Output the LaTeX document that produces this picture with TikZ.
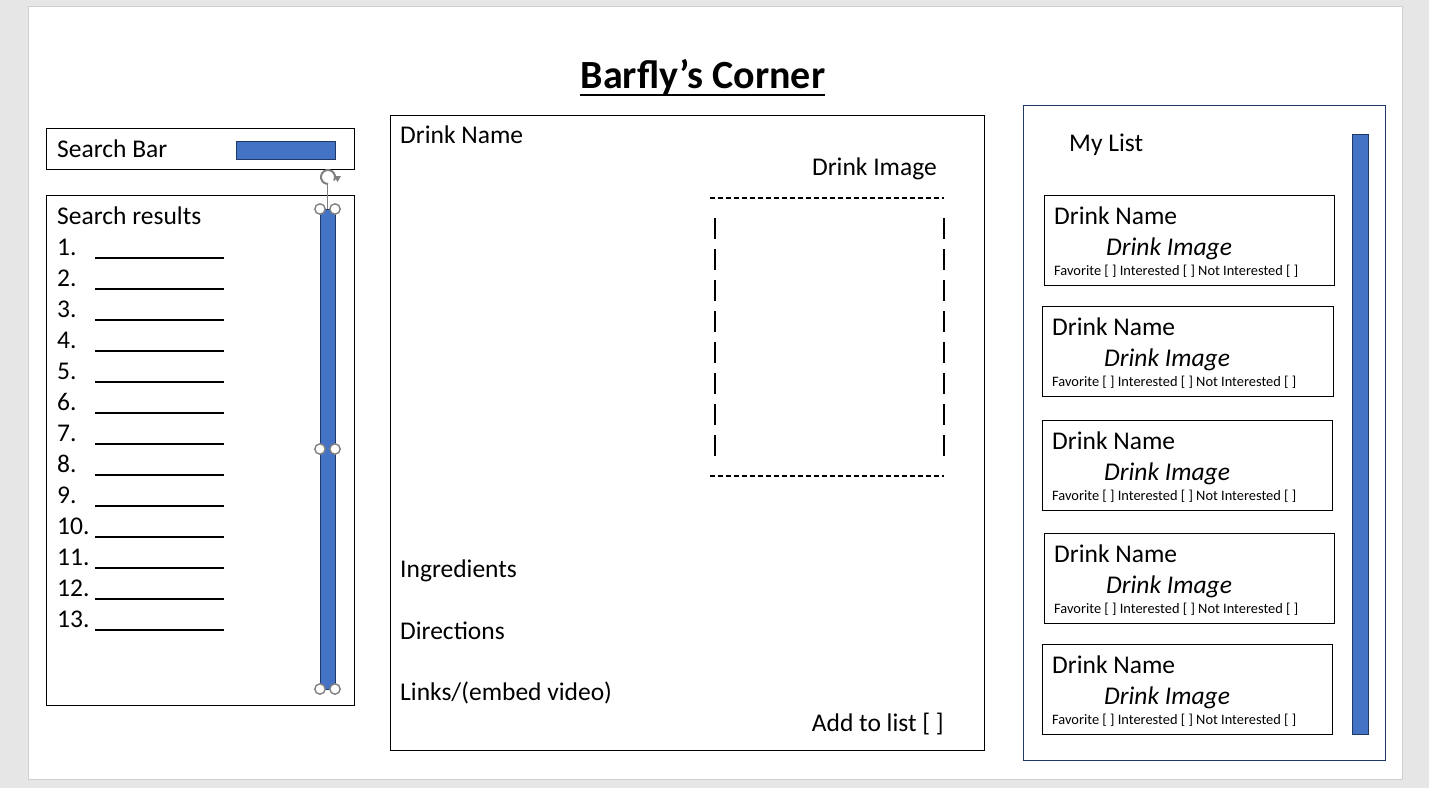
\documentclass[tikz,border=0pt]{standalone}
\usepackage{fontspec}
\setmainfont{Carlito}
\usetikzlibrary{arrows.meta}
\definecolor{bgray}{HTML}{E6E6E6}
\definecolor{sgray}{HTML}{D0D0D0}
\definecolor{mblue}{HTML}{4472C4}
\definecolor{navy}{HTML}{1F3864}
\definecolor{hgray}{HTML}{808080}
\tikzset{
  box/.style={draw=black, line width=1pt, fill=white},
  navybox/.style={draw=navy, line width=1pt, fill=white},
  bluebar/.style={draw=navy, line width=1pt, fill=mblue},
  lbl/.style={anchor=base west, inner sep=0pt, font=\fontsize{25.5}{30}\selectfont},
  lblr/.style={anchor=base east, inner sep=0pt, font=\fontsize{25.5}{30}\selectfont},
  img/.style={anchor=base west, inner sep=0pt, font=\fontsize{25.5}{30}\selectfont\itshape},
  small/.style={anchor=base west, inner sep=0pt, font=\fontsize{14.4}{16}\selectfont},
  handle/.style={draw=hgray, line width=1.4pt, fill=white},
  blank/.style={line width=2pt, black},
  vdash/.style={line width=2pt, black, dash pattern=on 21pt off 10pt},
  hdash/.style={line width=1.6pt, black, dash pattern=on 5pt off 3pt}
}
\begin{document}
\begin{tikzpicture}[x=1pt,y=-1pt]
\useasboundingbox (0,0) rectangle (1429,788);
\fill[bgray] (0,0) rectangle (1429,788);
\draw[sgray, fill=white, line width=1pt] (28,6) rectangle (1402,779);
% title
\node[anchor=base, inner sep=0pt, font=\fontsize{40}{48}\selectfont\bfseries] (title) at (703,88) {Barfly’s Corner};
\draw[line width=2.2pt] (580,95) -- (825,95);
% search bar
\draw[box] (46,128) rectangle (354,169);
\node[lbl] (sb) at (57,157) {Search Bar};
\draw[bluebar] (236,141) rectangle (335,159);
% search results
\draw[box] (46,195) rectangle (354,705);
\node[lbl] (sr) at (57,224) {Search results};
\foreach \i in {1,...,13} {
  \pgfmathsetmacro{\yy}{255+31*(\i-1)}
  \node[lbl] (n\i) at (57,\yy) {\i.};
  \draw[blank] (95,\yy+3) -- (224,\yy+3);
}
\draw[bluebar] (320,209) rectangle (335,689);
\draw[hgray, line width=1pt] (327.5,185) -- (327.5,209);
\foreach \yy in {209,449,689} {
  \draw[handle] (320,\yy) circle (5.2);
  \draw[handle] (335,\yy) circle (5.2);
}
\coordinate (rc) at (328,177);
\draw[hgray, line width=2pt] (rc) ++(30:7) arc[start angle=30, end angle=-270, radius=7];
\fill[hgray] (334,176) -- (341,176) -- (337.5,182) -- cycle;
% middle panel
\draw[box] (390,115) rectangle (984,750);
\node[lbl] (dn) at (400,143) {Drink Name};
\node[lblr] (di) at (937,175) {Drink Image};
\draw[hdash] (710,198) -- (944,198);
\draw[hdash] (710,476) -- (944,476);
\draw[vdash] (715,218) -- (715,460);
\draw[vdash] (944,218) -- (944,460);
\node[lbl] (ing) at (400,577) {Ingredients};
\node[lbl] (dir) at (400,639) {Directions};
\node[lbl] (lnk) at (400,700) {Links/(embed video)};
\node[lblr] (add) at (944,731) {Add to list [ ]};
% right panel
\draw[navybox] (1023,105) rectangle (1385,760);
\node[lbl] (ml) at (1069,151) {My List};
\draw[bluebar] (1352,134) rectangle (1368,734);
\foreach \x/\y/\w [count=\c] in {1044/195/290, 1042/306/291, 1042/420/290, 1044/533/290, 1042/644/290} {
  \draw[box] (\x,\y) rectangle (\x+\w,\y+90);
  \node[lbl] (cn\c) at (\x+10,\y+29) {Drink Name};
  \node[img] (ci\c) at (\x+62,\y+60) {Drink Image};
  \node[small] (cs\c) at (\x+10,\y+80) {Favorite [ ] Interested [ ] Not Interested [ ]};
}
\end{tikzpicture}
\end{document}
